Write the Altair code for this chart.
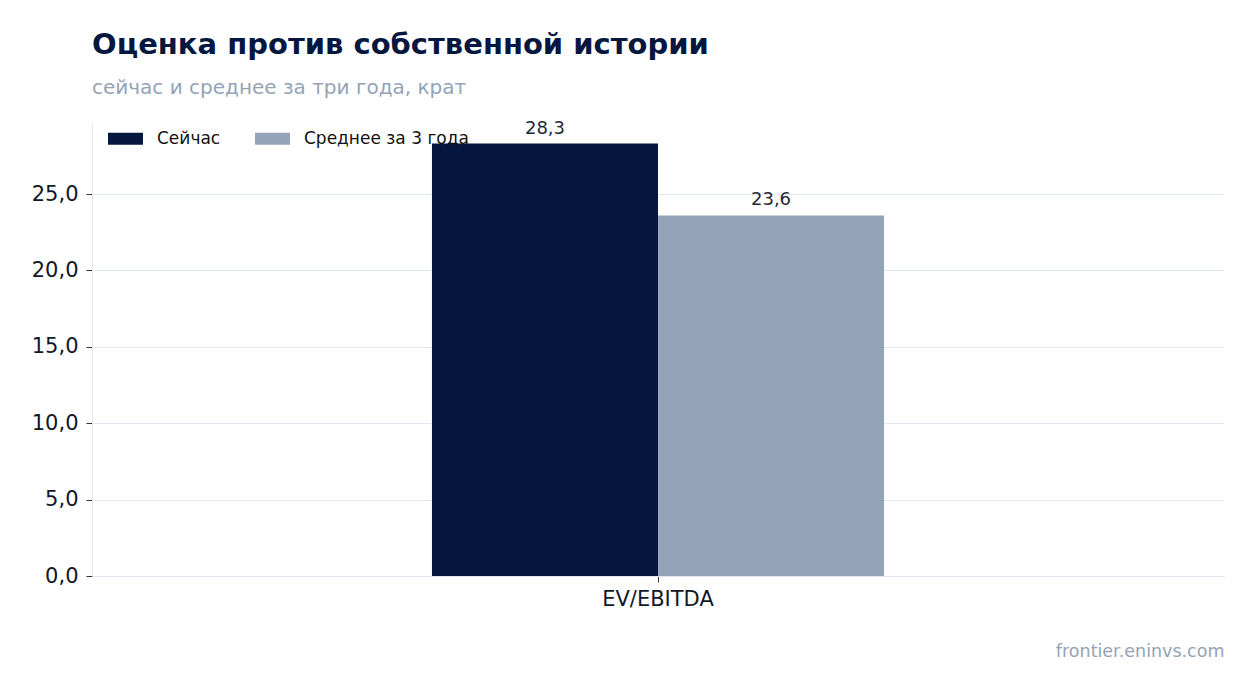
import altair as alt
import pandas as pd

metrics = ["EV/EBITDA", "EV/EBITDA"]
series = ["Сейчас", "Среднее за 3 года"]
values = [28.3, 23.6]
series_colors = ["#06173F", "#94A3B8"]
y_ticks = [0, 5, 10, 15, 20, 25]

df = pd.DataFrame({"metric": metrics, "series": series, "value": values})
df["label"] = df["value"].map(lambda v: f"{v:.1f}".replace(".", ","))

base = alt.Chart(df).encode(
    x=alt.X(
        "metric:N",
        title="frontier.eninvs.com",
        scale=alt.Scale(paddingInner=0, paddingOuter=0.752),
        axis=alt.Axis(
            labelAngle=0,
            labelFontSize=21,
            labelColor="#111827",
            labelFont="DejaVu Sans",
            labelPadding=6,
            tickColor="#333333",
            tickSize=6,
            domainColor="#E2E8F0",
            titleAnchor="end",
            titleFontSize=17.5,
            titleFontWeight="normal",
            titleColor="#94A3B8",
            titleFont="DejaVu Sans",
            titlePadding=33,
        ),
    ),
    xOffset=alt.XOffset("series:N", sort=series),
    y=alt.Y(
        "value:Q",
        title=None,
        scale=alt.Scale(domain=[0, 29.715], nice=False),
        axis=alt.Axis(
            values=y_ticks,
            labelExpr="replace(format(datum.value, '.1f'), '.', ',')",
            labelFontSize=21,
            labelColor="#111827",
            labelFont="DejaVu Sans",
            labelPadding=8,
            tickColor="#333333",
            tickSize=6,
            domainColor="#E2E8F0",
            gridColor="#E2E8F0",
            gridWidth=1,
        ),
    ),
)

bars = base.mark_bar().encode(
    color=alt.Color(
        "series:N",
        title=None,
        sort=series,
        scale=alt.Scale(domain=series, range=series_colors),
        legend=alt.Legend(
            orient="none",
            direction="horizontal",
            legendX=16,
            legendY=-1,
            symbolType="M-1,-0.343L1,-0.343L1,0.343L-1,0.343Z",
            symbolSize=1225,
            symbolStrokeWidth=0,
            labelFontSize=17,
            labelColor="#111111",
            labelFont="DejaVu Sans",
            labelOffset=14,
            labelLimit=400,
            columnPadding=34,
        ),
    ),
)

labels = base.mark_text(
    dy=-6, baseline="bottom", fontSize=18, color="#1F2937", font="DejaVu Sans"
).encode(text="label:N")

chart = (
    alt.layer(bars, labels)
    .properties(
        width=1132,
        height=454,
        background="white",
        autosize=alt.AutoSizeParams(type="none"),
        padding={"left": 84, "top": 114, "right": 22, "bottom": 100},
        title=alt.TitleParams(
            text="Оценка против собственной истории",
            subtitle="сейчас и среднее за три года, крат",
            anchor="start",
            frame="group",
            font="DejaVu Sans",
            fontSize=29,
            fontWeight="bold",
            color="#06173F",
            subtitleFont="DejaVu Sans",
            subtitleFontSize=20,
            subtitleColor="#94A3B8",
            subtitlePadding=18,
            offset=22,
        ),
    )
    .configure_view(stroke="transparent")
)

chart.save("out.html", embed_options={"renderer": "svg", "actions": False})
